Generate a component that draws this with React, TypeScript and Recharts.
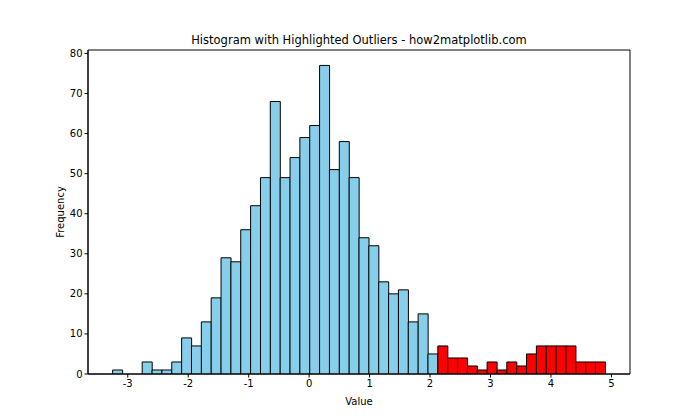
import { BarChart, Bar, XAxis, YAxis, Cell, ReferenceArea } from 'recharts';

// histogram counts, 50 bins
const counts = [
  1, 0, 0, 3, 1, 1, 3, 9, 7, 13,
  19, 29, 28, 36, 42, 49, 68, 49, 54, 59,
  62, 77, 51, 58, 49, 34, 32, 23, 20, 21,
  13, 15, 5, 7, 4, 4, 2, 1, 3, 1,
  3, 2, 5, 7, 7, 7, 7, 3, 3, 3,
];
const binStart = -3.25;
const binWidth = 0.163;
const outlierThreshold = 2.1;
const xTicks = [-3, -2, -1, 0, 1, 2, 3, 4, 5];
const yTicks = [0, 10, 20, 30, 40, 50, 60, 70, 80];

const W = 700;
const H = 420;
const margin = { top: 50, right: 70, left: 32, bottom: 16 };

const binEnd = binStart + counts.length * binWidth;
const span = binEnd - binStart;
const xDomain = [binStart - 0.05 * span, binEnd + 0.05 * span];
const yMax = Math.max(...counts) * 1.05;

const data = counts.map((count, i) => ({
  center: binStart + (i + 0.5) * binWidth,
  count,
  outlier: binStart + i * binWidth > outlierThreshold,
}));

const font = 'DejaVu Sans, sans-serif';
const tickStyle = { fontSize: 10, fill: '#000', fontFamily: font };

export default function App() {
  return (
    <div style={{ position: 'absolute', left: 0, top: 0, width: W, height: H, background: '#fff' }}>
      <div
        style={{
          position: 'absolute', left: 88, top: 32, width: 542, textAlign: 'center',
          fontFamily: font, fontSize: 11.5, lineHeight: '16px', color: '#000',
        }}
      >
        Histogram with Highlighted Outliers - how2matplotlib.com
      </div>
      <BarChart width={W} height={H} data={data} margin={margin} barCategoryGap={0} barGap={0}>
        <XAxis
          dataKey="center"
          type="number"
          domain={xDomain}
          allowDataOverflow
          ticks={xTicks}
          tick={tickStyle}
          tickSize={3.5}
          tickLine={{ stroke: '#000' }}
          axisLine={{ stroke: '#000' }}
          height={30}
          label={{ value: 'Value', position: 'insideBottom', offset: -1, style: tickStyle }}
        />
        <YAxis
          domain={[0, yMax]}
          allowDataOverflow
          ticks={yTicks}
          tick={tickStyle}
          tickSize={3.5}
          tickLine={{ stroke: '#000' }}
          axisLine={{ stroke: '#000' }}
          width={56}
          label={{ value: 'Frequency', angle: -90, position: 'center', style: tickStyle }}
        />
        <Bar dataKey="count" stroke="#000" strokeWidth={1} isAnimationActive={false}>
          {data.map((d) => (
            <Cell key={d.center} fill={d.outlier ? '#ff0000' : '#87ceeb'} />
          ))}
        </Bar>
        <ReferenceArea
          x1={xDomain[0]}
          x2={xDomain[1]}
          y1={0}
          y2={yMax}
          fill="none"
          stroke="#000"
          strokeWidth={1}
          ifOverflow="visible"
        />
      </BarChart>
    </div>
  );
}
